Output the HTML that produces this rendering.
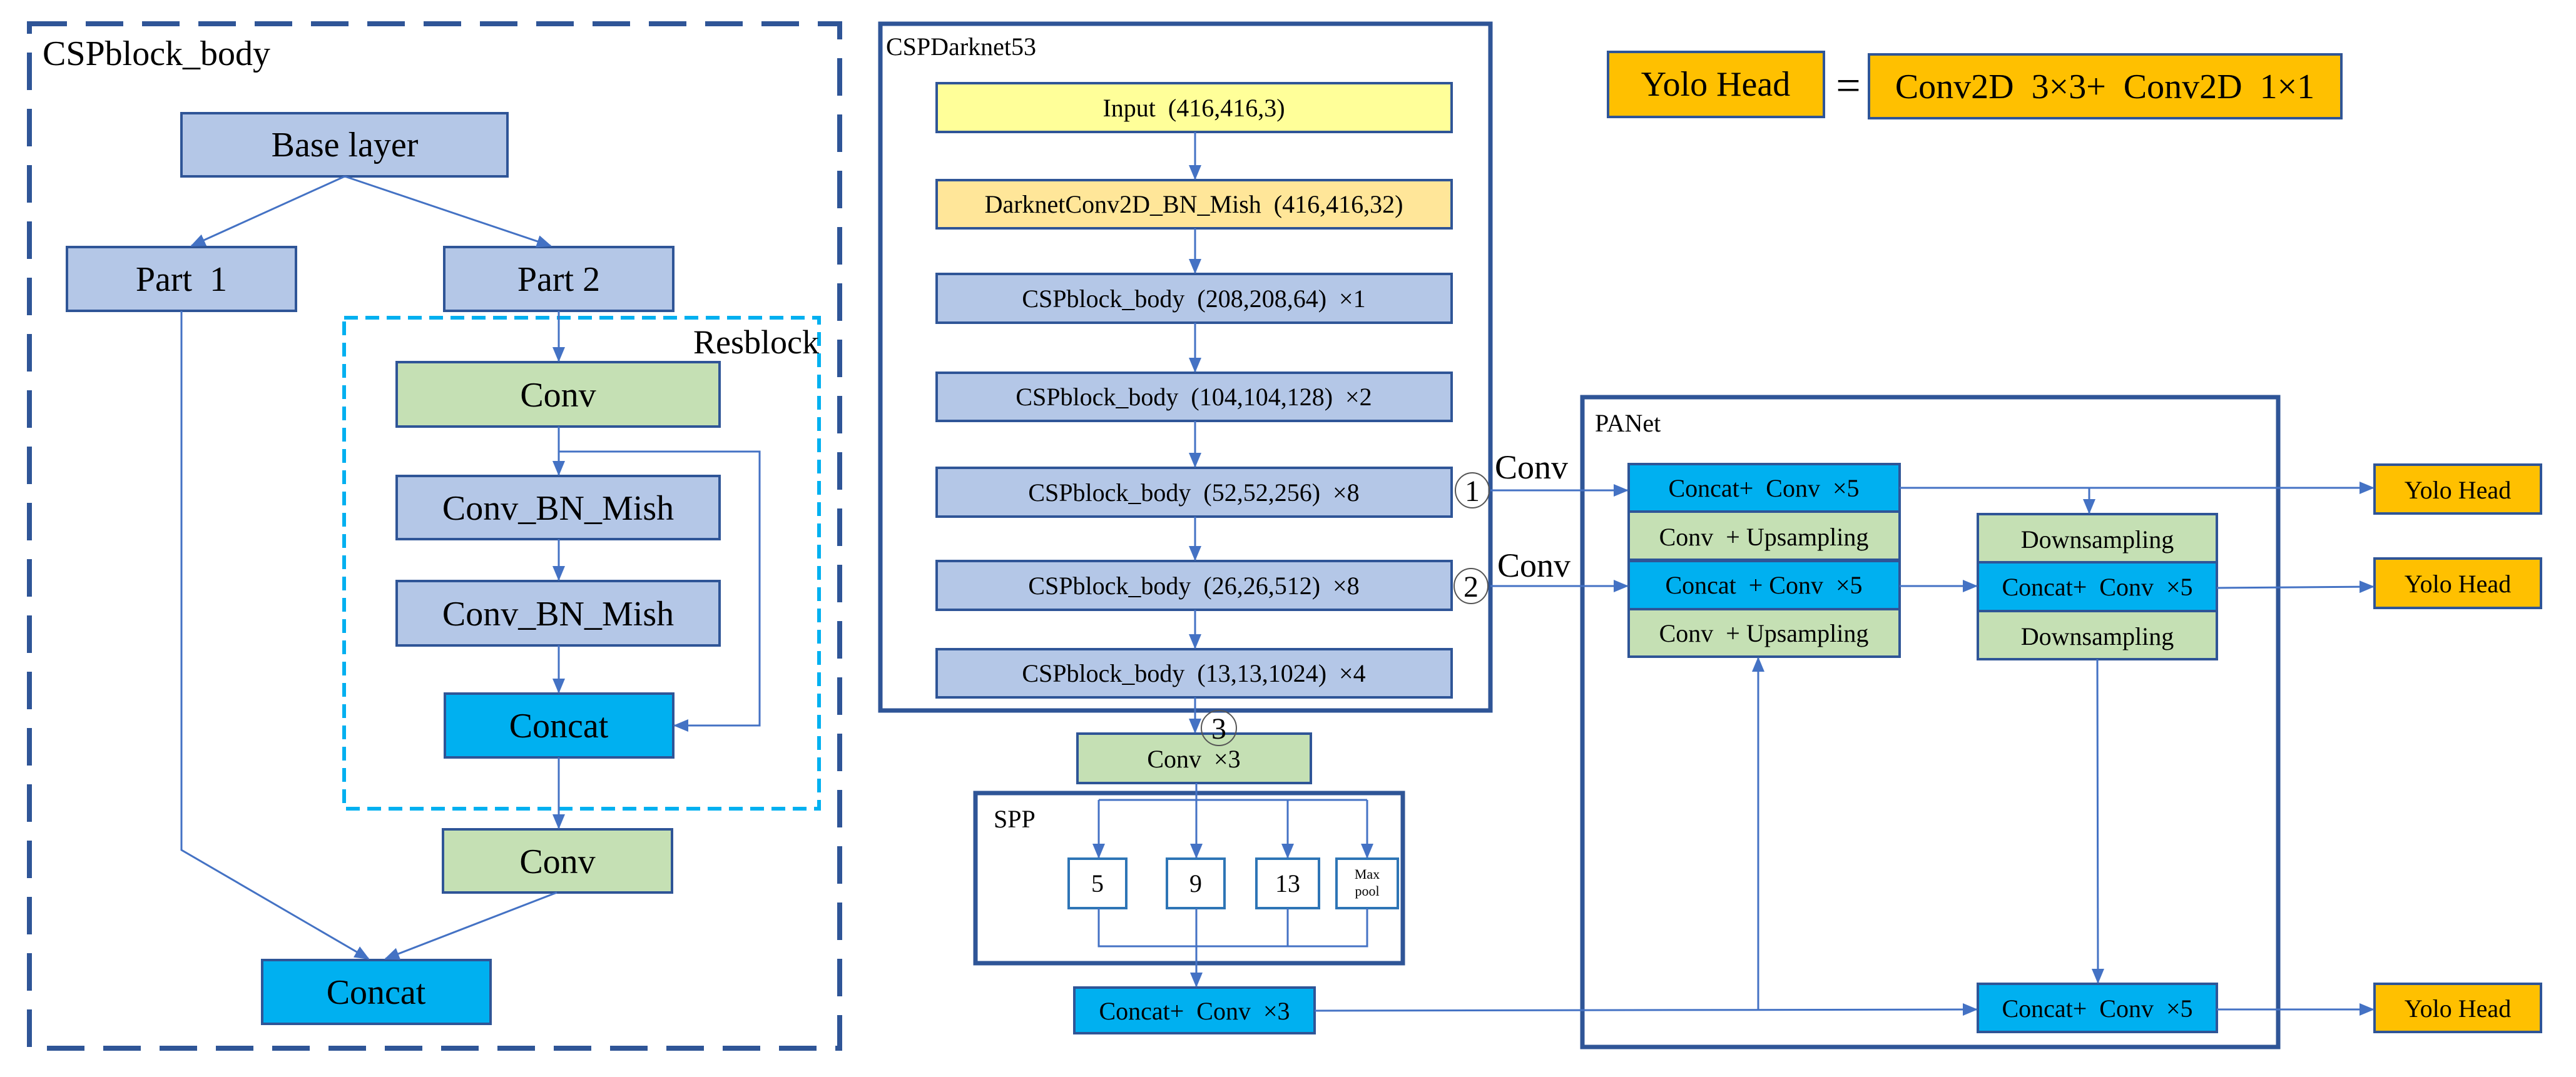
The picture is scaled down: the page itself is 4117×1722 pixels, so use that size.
<!DOCTYPE html>
<html><head><meta charset="utf-8"><style>
html,body{margin:0;padding:0;background:#fff}
svg{display:block}
svg, svg text{font-family:"Times New Roman","Liberation Serif","DejaVu Serif",serif;white-space:pre}
text{fill:#000}
</style></head><body>
<svg width="4117" height="1722" viewBox="0 0 4117 1722" xmlns="http://www.w3.org/2000/svg" font-family="Times New Roman, Liberation Serif, serif" xml:space="preserve">
<defs>
<marker id="a" markerUnits="userSpaceOnUse" markerWidth="24" markerHeight="20" refX="22" refY="10" orient="auto"><path d="M0,0 L24,10 L0,20 z" fill="#4472C4"/></marker>
</defs>
<g stroke="#2F5597" stroke-width="4">
<rect x="47" y="38" width="1295" height="1638" fill="none" stroke-width="8" stroke-dasharray="60,30"/>
<rect x="550" y="508" width="759" height="785" fill="none" stroke="#00B0F0" stroke-width="6" stroke-dasharray="22,12"/>
<rect x="290" y="181" width="521" height="101" fill="#B4C7E7"/>
<rect x="107" y="395" width="366" height="102" fill="#B4C7E7"/>
<rect x="710" y="395" width="366" height="102" fill="#B4C7E7"/>
<rect x="634" y="579" width="516" height="103" fill="#C5E0B4"/>
<rect x="634" y="761" width="516" height="101" fill="#B4C7E7"/>
<rect x="634" y="929" width="516" height="103" fill="#B4C7E7"/>
<rect x="711" y="1109" width="365" height="102" fill="#00B0F0"/>
<rect x="708" y="1326" width="366" height="101" fill="#C5E0B4"/>
<rect x="419" y="1535" width="365" height="102" fill="#00B0F0"/>
<rect x="1407" y="38" width="975" height="1098" fill="none" stroke-width="7"/>
<rect x="1497" y="133" width="823" height="78" fill="#FFFF99"/>
<rect x="1497" y="288" width="823" height="77" fill="#FFE699"/>
<rect x="1497" y="438" width="823" height="78" fill="#B4C7E7"/>
<rect x="1497" y="596" width="823" height="77" fill="#B4C7E7"/>
<rect x="1497" y="748" width="823" height="78" fill="#B4C7E7"/>
<rect x="1497" y="897" width="823" height="78" fill="#B4C7E7"/>
<rect x="1497" y="1038" width="823" height="77" fill="#B4C7E7"/>
<rect x="1722" y="1173" width="373" height="79" fill="#C5E0B4"/>
<rect x="1559" y="1268" width="683" height="272" fill="none" stroke-width="7"/>
<rect x="1717" y="1579" width="384" height="73" fill="#00B0F0"/>
<rect x="2570" y="83" width="345" height="104" fill="#FFC000"/>
<rect x="2987" y="87" width="755" height="102" fill="#FFC000"/>
<rect x="2529" y="635" width="1112" height="1039" fill="none" stroke-width="7"/>
<rect x="2603" y="742" width="433" height="76" fill="#00B0F0"/>
<rect x="2603" y="818" width="433" height="77" fill="#C5E0B4"/>
<rect x="2603" y="897" width="433" height="77" fill="#00B0F0"/>
<rect x="2603" y="974" width="433" height="76" fill="#C5E0B4"/>
<rect x="3161" y="822" width="382" height="77" fill="#C5E0B4"/>
<rect x="3161" y="899" width="382" height="78" fill="#00B0F0"/>
<rect x="3161" y="977" width="382" height="77" fill="#C5E0B4"/>
<rect x="3161" y="1573" width="382" height="77" fill="#00B0F0"/>
<rect x="3795" y="743" width="266" height="78" fill="#FFC000"/>
<rect x="3795" y="893" width="266" height="79" fill="#FFC000"/>
<rect x="3795" y="1573" width="266" height="77" fill="#FFC000"/>
</g>
<g stroke="#2E75B6" stroke-width="4" fill="#fff">
<rect x="1708" y="1373" width="92" height="79"/>
<rect x="1865" y="1373" width="92" height="79"/>
<rect x="2008" y="1373" width="100" height="79"/>
<rect x="2136" y="1373" width="98" height="79"/>
</g>
<g stroke="#4472C4" stroke-width="3" fill="none">
<path d="M551,282 L306,393" marker-end="url(#a)"/>
<path d="M551,282 L880,393" marker-end="url(#a)"/>
<path d="M893,497 L893,577" marker-end="url(#a)"/>
<path d="M893,682 L893,759" marker-end="url(#a)"/>
<path d="M893,862 L893,927" marker-end="url(#a)"/>
<path d="M893,1032 L893,1107" marker-end="url(#a)"/>
<path d="M893,722 L1214,722 L1214,1160 L1078,1160" marker-end="url(#a)"/>
<path d="M893,1211 L893,1324" marker-end="url(#a)"/>
<path d="M290,497 L290,1359 L589,1533" marker-end="url(#a)"/>
<path d="M890,1427 L616,1533" marker-end="url(#a)"/>
<path d="M1910,211 L1910,286" marker-end="url(#a)"/>
<path d="M1910,365 L1910,436" marker-end="url(#a)"/>
<path d="M1910,516 L1910,594" marker-end="url(#a)"/>
<path d="M1910,673 L1910,746" marker-end="url(#a)"/>
<path d="M1910,826 L1910,895" marker-end="url(#a)"/>
<path d="M1910,975 L1910,1036" marker-end="url(#a)"/>
<path d="M1910,1115 L1910,1171" marker-end="url(#a)"/>
<path d="M1912,1252 L1912,1371" marker-end="url(#a)"/>
<path d="M1756,1279 L2185,1279"/>
<path d="M1756,1279 L1756,1371" marker-end="url(#a)"/>
<path d="M2058,1279 L2058,1371" marker-end="url(#a)"/>
<path d="M2185,1279 L2185,1371" marker-end="url(#a)"/>
<path d="M1756,1452 L1756,1513 L2185,1513 L2185,1452 M2058,1452 L2058,1513"/>
<path d="M1912,1452 L1912,1577" marker-end="url(#a)"/>
<path d="M2382,784 L2601,784" marker-end="url(#a)"/>
<path d="M2382,937 L2601,937" marker-end="url(#a)"/>
<path d="M2101,1616 L3159,1614" marker-end="url(#a)"/>
<path d="M2810,1615 L2810,1052" marker-end="url(#a)"/>
<path d="M3036,780 L3793,780" marker-end="url(#a)"/>
<path d="M3339,780 L3339,820" marker-end="url(#a)"/>
<path d="M3036,937 L3159,937" marker-end="url(#a)"/>
<path d="M3543,940 L3793,938" marker-end="url(#a)"/>
<path d="M3352,1054 L3353,1571" marker-end="url(#a)"/>
<path d="M3543,1614 L3793,1614" marker-end="url(#a)"/>
</g>
<g fill="none" stroke="#555" stroke-width="2">
<ellipse cx="2353" cy="784" rx="27" ry="28"/>
<ellipse cx="2351" cy="937" rx="27" ry="28"/>
<ellipse cx="1948" cy="1164" rx="28" ry="28"/>
</g>
<g font-size="48" text-anchor="middle">
<text x="2353" y="801">1</text>
<text x="2351" y="954">2</text>
<text x="1948" y="1181">3</text>
</g>
<text x="68" y="104" font-size="56" font-family="Times New Roman, Liberation Serif, serif">CSPblock_body</text>
<text x="1309" y="565" font-size="54" text-anchor="end" font-family="Times New Roman, Liberation Serif, serif">Resblock</text>
<g font-size="56" text-anchor="middle" font-family="Times New Roman, Liberation Serif, serif">
<text x="551" y="250">Base layer</text>
<text x="290" y="465">Part  1</text>
<text x="893" y="465">Part 2</text>
<text x="892" y="650">Conv</text>
<text x="892" y="831">Conv_BN_Mish</text>
<text x="892" y="1000">Conv_BN_Mish</text>
<text x="893" y="1179">Concat</text>
<text x="891" y="1396">Conv</text>
<text x="601" y="1605">Concat</text>
<text x="2742" y="153">Yolo Head</text>
<text x="3364" y="157">Conv2D  3×3+  Conv2D  1×1</text>
</g>
<text x="2954" y="160" font-size="70" text-anchor="middle">=</text>
<text x="2389" y="765" font-size="54" font-family="Times New Roman, Liberation Serif, serif">Conv</text>
<text x="2393" y="922" font-size="54" font-family="Times New Roman, Liberation Serif, serif">Conv</text>
<text x="1416" y="88" font-size="40">CSPDarknet53</text>
<text x="1588" y="1323" font-size="40">SPP</text>
<text x="2549" y="690" font-size="40">PANet</text>
<g font-size="40" text-anchor="middle">
<text x="1908" y="186">Input  (416,416,3)</text>
<text x="1908" y="340">DarknetConv2D_BN_Mish  (416,416,32)</text>
<text x="1908" y="491">CSPblock_body  (208,208,64)  ×1</text>
<text x="1908" y="648">CSPblock_body  (104,104,128)  ×2</text>
<text x="1908" y="801">CSPblock_body  (52,52,256)  ×8</text>
<text x="1908" y="950">CSPblock_body  (26,26,512)  ×8</text>
<text x="1908" y="1090">CSPblock_body  (13,13,1024)  ×4</text>
<text x="1908" y="1227">Conv  ×3</text>
<text x="1754" y="1426">5</text>
<text x="1911" y="1426">9</text>
<text x="2058" y="1426">13</text>
<text x="1909" y="1630">Concat+  Conv  ×3</text>
<text x="2819" y="794">Concat+  Conv  ×5</text>
<text x="2819" y="872">Conv  + Upsampling</text>
<text x="2819" y="949">Concat  + Conv  ×5</text>
<text x="2819" y="1026">Conv  + Upsampling</text>
<text x="3352" y="876">Downsampling</text>
<text x="3352" y="952">Concat+  Conv  ×5</text>
<text x="3352" y="1031">Downsampling</text>
<text x="3352" y="1626">Concat+  Conv  ×5</text>
<text x="3928" y="797">Yolo Head</text>
<text x="3928" y="947">Yolo Head</text>
<text x="3928" y="1626">Yolo Head</text>
</g>
<g font-size="22" text-anchor="middle">
<text x="2185" y="1405">Max</text>
<text x="2185" y="1432">pool</text>
</g>
</svg>
</body></html>
